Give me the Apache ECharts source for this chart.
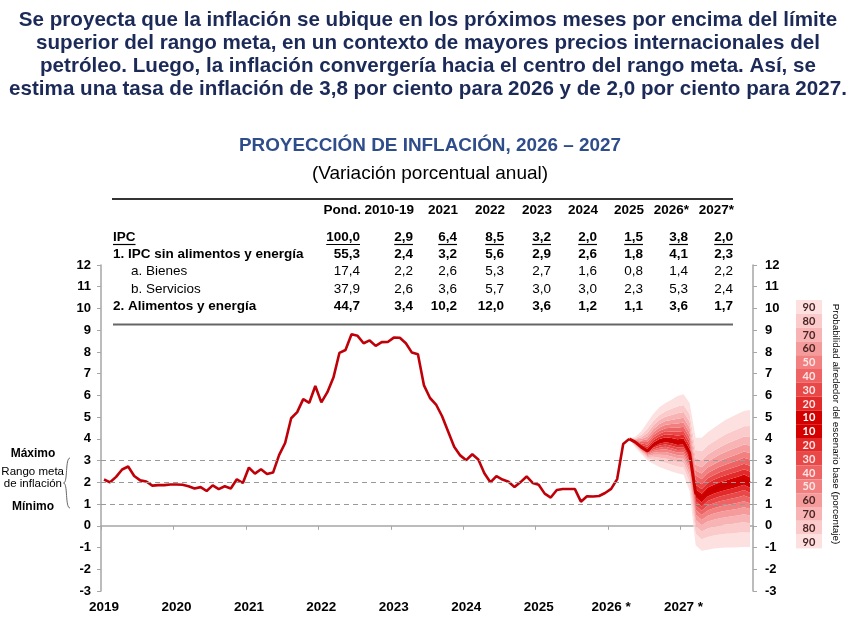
<!DOCTYPE html>
<html>
<head>
<meta charset="utf-8">
<script src="https://cdn.jsdelivr.net/npm/echarts@6/dist/echarts.min.js"></script>
<style>
html,body{margin:0;padding:0;background:#fff}
#chart{width:860px;height:623px}
</style>
</head>
<body>
<div id="chart"></div>
<script>
// inflacion a 12 meses observada, ene-2019 a abr-2026
var histValues = [
  2.13, 2.00, 2.25, 2.59, 2.73, 2.29, 2.09, 2.04, 1.85, 1.87, 1.87, 1.90,
  1.90, 1.89, 1.82, 1.72, 1.78, 1.60, 1.86, 1.69, 1.82, 1.72, 2.14, 1.97,
  2.68, 2.40, 2.60, 2.38, 2.45, 3.25, 3.81, 4.95, 5.23, 5.83, 5.66, 6.43,
  5.68, 6.15, 6.82, 7.96, 8.09, 8.81, 8.74, 8.40, 8.53, 8.28, 8.45, 8.46,
  8.66, 8.65, 8.40, 7.97, 7.89, 6.46, 5.88, 5.58, 5.04, 4.34, 3.64, 3.24,
  3.02, 3.29, 3.05, 2.42, 2.00, 2.29, 2.13, 2.03, 1.78, 2.01, 2.27, 1.97,
  1.89, 1.48, 1.30, 1.65, 1.69, 1.69, 1.69, 1.11, 1.36, 1.35, 1.37, 1.51,
  1.70, 2.15, 3.76, 4.00
];
// proyeccion may-2026 a dic-2027
var projCenter  = [3.85, 3.62, 3.44, 3.72, 3.87, 3.95, 3.90, 3.82, 3.85, 3.35, 1.50, 1.26, 1.55, 1.68, 1.78, 1.86, 1.94, 2.02, 2.12, 1.98];
var projUpper90 = [4.10, 4.35, 4.75, 5.15, 5.45, 5.65, 5.80, 5.97, 6.05, 5.65, 4.05, 4.05, 4.30, 4.50, 4.70, 4.88, 5.02, 5.15, 5.28, 5.33];
var projLower90 = [3.60, 3.30, 3.00, 2.85, 2.70, 2.60, 2.50, 2.42, 2.35, 1.60, -0.90, -1.15, -1.10, -1.05, -1.02, -1.00, -1.00, -0.99, -0.98, -0.97];

var bandLevels = [10, 20, 30, 40, 50, 60, 70, 80, 90];
var bandShare  = [0.076, 0.154, 0.234, 0.319, 0.410, 0.512, 0.630, 0.779, 1];
var bandColors = ['#d40000', '#e22a2a', '#e94848', '#ee6464', '#f28080', '#f59b9b', '#f8b4b4', '#fbcbcb', '#fde1e1'];

var yearLabels = ['2019', '2020', '2021', '2022', '2023', '2024', '2025', '2026 *', '2027 *'];
var targetLines = [1, 2, 3];

var headLines = [
  'Se proyecta que la inflación se ubique en los próximos meses por encima del límite',
  'superior del rango meta, en un contexto de mayores precios internacionales del',
  'petróleo. Luego, la inflación convergería hacia el centro del rango meta. Así, se',
  'estima una tasa de inflación de 3,8 por ciento para 2026 y de 2,0 por ciento para 2027.'
];
var tableCols   = ['Pond.', '2010-19', '2021', '2022', '2023', '2024', '2025', '2026*', '2027*'];
var rowNames    = ['IPC', '1. IPC sin alimentos y energía', 'a. Bienes', 'b. Servicios', '2. Alimentos y energía'];
var ipcRow      = [100.0, 2.9, 6.4, 8.5, 3.2, 2.0, 1.5, 3.8, 2.0];
var coreRow     = [55.3, 2.4, 3.2, 5.6, 2.9, 2.6, 1.8, 4.1, 2.3];
var goodsRow    = [17.4, 2.2, 2.6, 5.3, 2.7, 1.6, 0.8, 1.4, 2.2];
var servicesRow = [37.9, 2.6, 3.6, 5.7, 3.0, 3.0, 2.3, 5.3, 2.4];
var foodRow     = [44.7, 3.4, 10.2, 12.0, 3.6, 1.2, 1.1, 3.6, 1.7];

var FONT = "'Liberation Sans', Arial, sans-serif";

var chart = echarts.init(document.getElementById('chart'));

// meses ene-2019 .. dic-2027
var months = [];
for (var i = 0; i < 108; i++) months.push(i);

var last = histValues.length - 1;
var C = [histValues[last]].concat(projCenter);
var U = [histValues[last]].concat(projUpper90);
var L = [histValues[last]].concat(projLower90);

function pad(arr, start) {
  var out = [];
  for (var i = 0; i < start; i++) out.push('-');
  return out.concat(arr);
}

// bordes del abanico de abajo hacia arriba
var edges = [];
for (var k = 8; k >= 0; k--) edges.push(C.map(function (c, j) { return c - bandShare[k] * (c - L[j]); }));
edges.push(C);
for (k = 0; k < 9; k++) edges.push(C.map(function (c, j) { return c + bandShare[k] * (U[j] - c); }));

var series = [];
series.push({
  type: 'line', stack: 'fan', stackStrategy: 'all', silent: true, z: 2,
  symbol: 'none', lineStyle: { width: 0, opacity: 0 },
  data: pad(edges[0], last)
});
for (var b = 0; b < 18; b++) {
  (function (b) {
    series.push({
      type: 'line', stack: 'fan', stackStrategy: 'all', silent: true, z: 2,
      symbol: 'none', lineStyle: { width: 0, opacity: 0 },
      areaStyle: { color: b < 9 ? bandColors[8 - b] : bandColors[b - 9], opacity: 1 },
      data: pad(edges[b + 1].map(function (v, j) { return v - edges[b][j]; }), last)
    });
  })(b);
}
// lineas del rango meta
series.push({
  type: 'line', data: [], z: 3, silent: true,
  markLine: {
    silent: true, symbol: 'none', label: { show: false },
    lineStyle: { color: '#999', type: [5, 4], width: 1 },
    data: targetLines.map(function (v) { return { yAxis: v }; })
  }
});
series.push({
  type: 'line', z: 4, symbol: 'none', silent: true,
  lineStyle: { color: '#c00008', width: 2.6 },
  data: histValues
});
series.push({
  type: 'line', z: 4, symbol: 'none', silent: true,
  lineStyle: { color: '#c80000', width: 3 },
  data: pad(C, last)
});

// --- textos ---
var g = [];
function txt(t, x, y, o) {
  o = o || {};
  g.push({
    type: 'text', silent: true, z: 10,
    style: {
      text: t, x: x, y: y,
      align: o.align || 'left', textAlign: o.align || 'left',
      verticalAlign: 'middle', textVerticalAlign: 'middle',
      fill: o.fill || '#000',
      font: (o.weight || 'normal') + ' ' + (o.size || 13) + 'px ' + (o.family || FONT)
    }
  });
}
function line(x1, y1, x2, y2, color, w) {
  g.push({ type: 'line', silent: true, z: 10, shape: { x1: x1, y1: y1, x2: x2, y2: y2 }, style: { stroke: color, lineWidth: w } });
}
var ctx = document.createElement('canvas').getContext('2d');
function textW(t, font) { ctx.font = font; return ctx.measureText(t).width; }

headLines.forEach(function (t, i) {
  txt(t, 428, 20 + i * 23, { align: 'center', weight: 'bold', size: 20.6, fill: '#1c2a58' });
});
txt('PROYECCIÓN DE INFLACIÓN, 2026 – 2027', 430, 146, { align: 'center', weight: 'bold', size: 18.9, fill: '#2f4d8a' });
txt('(Variación porcentual anual)', 430, 174, { align: 'center', size: 19 });

// tabla
var colRight = [360, 413, 457, 504, 551, 597, 643, 688, 733];
var rowY = [237, 254, 271, 289, 306];
var rows = [ipcRow, coreRow, goodsRow, servicesRow, foodRow];
var rowBold = [true, true, false, false, true];
var TS = 13.5;
line(112, 199, 733, 199, '#333', 2);
line(113, 324.5, 733, 324.5, '#666', 2);
tableCols.forEach(function (c, i) {
  txt(c, colRight[i] + 1, 210, { align: 'right', weight: 'bold', size: TS });
});
rows.forEach(function (r, ri) {
  var w = rowBold[ri] ? 'bold' : 'normal';
  var lx = (ri === 2 || ri === 3) ? 131 : 113;
  txt(rowNames[ri], lx, rowY[ri], { weight: w, size: TS });
  if (ri === 0) {
    line(lx, rowY[ri] + 7.5, lx + textW(rowNames[ri], 'bold ' + TS + 'px ' + FONT), rowY[ri] + 7.5, '#000', 1.2);
  }
  r.forEach(function (v, ci) {
    var s = v.toFixed(1).replace('.', ',');
    txt(s, colRight[ci], rowY[ri], { align: 'right', weight: w, size: TS });
    if (ri === 0) {
      var tw = textW(s, 'bold ' + TS + 'px ' + FONT);
      line(colRight[ci] - tw, rowY[ri] + 7.5, colRight[ci], rowY[ri] + 7.5, '#000', 1.2);
    }
  });
});

// rango meta
txt('Máximo', 33, 454, { align: 'center', weight: 'bold', size: 12 });
txt('Rango meta', 64, 472, { align: 'right', size: 11.5 });
txt('de inflación', 62, 484, { align: 'right', size: 11.5 });
txt('Mínimo', 33, 507, { align: 'center', weight: 'bold', size: 12 });
[[458, 483], [508, 483]].forEach(function (p) {
  g.push({
    type: 'bezierCurve', silent: true, z: 10,
    shape: { x1: 70, y1: p[0], cpx1: 65, cpy1: p[0], cpx2: 68, cpy2: p[1], x2: 63.5, y2: p[1] },
    style: { stroke: '#666', lineWidth: 1, fill: null }
  });
});

// leyenda de probabilidad
var legendLevels = bandLevels.slice().reverse().concat(bandLevels);
var cellH = 13.8;
legendLevels.forEach(function (lv, i) {
  var ci = bandLevels.indexOf(lv);
  var y0 = 300 + i * cellH;
  g.push({ type: 'rect', silent: true, z: 10, shape: { x: 796, y: y0, width: 26, height: cellH }, style: { fill: bandColors[ci] } });
  txt(String(lv), 809, y0 + cellH / 2 + 0.5, {
    align: 'center', weight: 'bold', size: 11, family: "Lato, 'Open Sans', sans-serif",
    fill: ci >= 5 ? '#4a2424' : (ci === 0 ? '#ffffff' : '#fde6e6')
  });
});
g.push({
  type: 'text', silent: true, z: 10, x: 836, y: 424, rotation: -Math.PI / 2,
  style: {
    text: 'Probabilidad alrededor del escenario base (porcentaje)', x: 0, y: 0,
    align: 'center', textAlign: 'center', verticalAlign: 'middle', textVerticalAlign: 'middle',
    fill: '#000', font: 'normal 9.9px ' + FONT
  }
});

var yLabel = { color: '#000', fontWeight: 'bold', fontSize: 13, fontFamily: FONT };

chart.setOption({
  animation: false,
  grid: { left: 101, right: 107, top: 265, bottom: 32, containLabel: false },
  xAxis: [{
    type: 'category', data: months, boundaryGap: true, position: 'bottom',
    axisLine: { show: false, onZero: false }, axisTick: { show: false },
    axisLabel: {
      interval: 11, margin: 9, color: '#000', fontWeight: 'bold', fontSize: 13.5, fontFamily: FONT,
      formatter: function (v, idx) { return idx % 12 === 0 ? yearLabels[idx / 12] : ''; }
    },
    splitLine: { show: false }
  }, {
    type: 'category', data: months, boundaryGap: true, position: 'bottom',
    axisLine: { show: true, onZero: true, lineStyle: { color: '#a6a6a6', width: 1.5 } },
    axisTick: { show: true, interval: 11, length: 4, lineStyle: { color: '#a6a6a6' } },
    axisLabel: { show: false },
    splitLine: { show: false }
  }],
  yAxis: [{
    type: 'value', min: -3, max: 12, interval: 1, position: 'left',
    axisLine: { show: true, lineStyle: { color: '#a6a6a6', width: 1.5 } },
    axisTick: { show: true, length: 4, lineStyle: { color: '#a6a6a6' } },
    axisLabel: Object.assign({ margin: 10, align: 'right' }, yLabel),
    splitLine: { show: false }
  }, {
    type: 'value', min: -3, max: 12, interval: 1, position: 'right',
    axisLine: { show: true, lineStyle: { color: '#a6a6a6', width: 1.5 } },
    axisTick: { show: true, length: 4, lineStyle: { color: '#a6a6a6' } },
    axisLabel: Object.assign({ margin: 12, align: 'left' }, yLabel),
    splitLine: { show: false }
  }],
  series: series,
  graphic: g
});
</script>
</body>
</html>
